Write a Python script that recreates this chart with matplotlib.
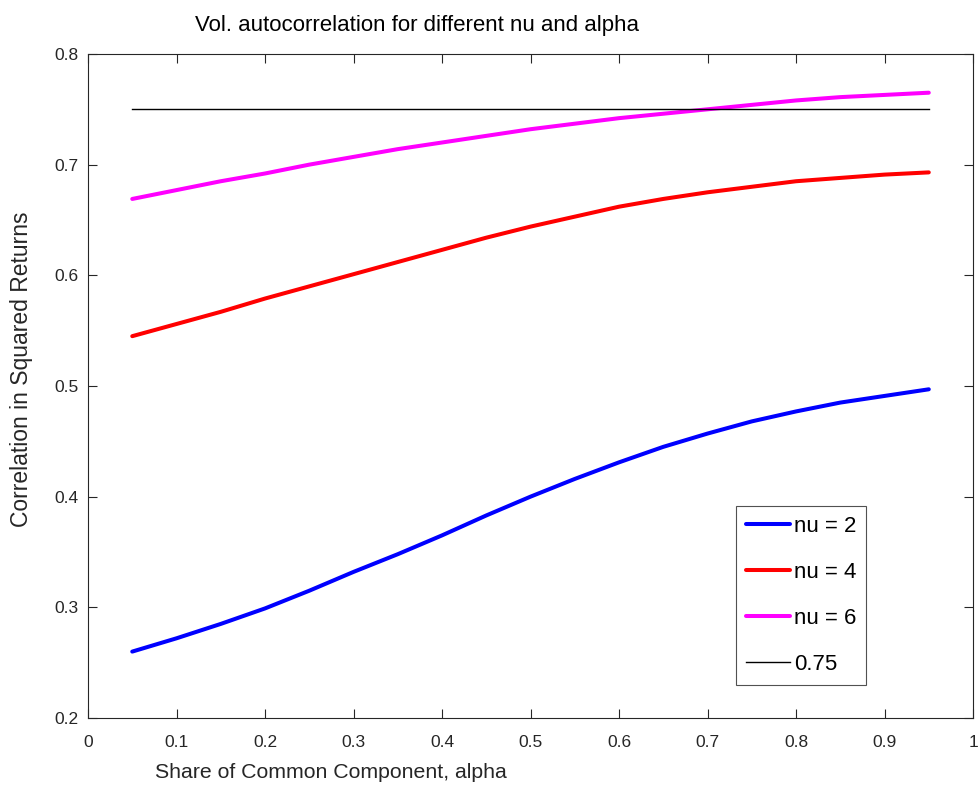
import matplotlib as mpl
import matplotlib.pyplot as plt

mpl.use('Agg')
plt.rcParams['font.family'] = ['Liberation Sans', 'DejaVu Sans']

alpha = [0.05, 0.10, 0.15, 0.20, 0.25, 0.30, 0.35, 0.40, 0.45, 0.50,
         0.55, 0.60, 0.65, 0.70, 0.75, 0.80, 0.85, 0.90, 0.95]
corr_nu2 = [0.260, 0.272, 0.285, 0.299, 0.315, 0.332, 0.348, 0.365, 0.383, 0.400,
            0.416, 0.431, 0.445, 0.457, 0.468, 0.477, 0.485, 0.491, 0.497]
corr_nu4 = [0.545, 0.556, 0.567, 0.579, 0.590, 0.601, 0.612, 0.623, 0.634, 0.644,
            0.653, 0.662, 0.669, 0.675, 0.680, 0.685, 0.688, 0.691, 0.693]
corr_nu6 = [0.669, 0.677, 0.685, 0.692, 0.700, 0.707, 0.714, 0.720, 0.726, 0.732,
            0.737, 0.742, 0.746, 0.750, 0.754, 0.758, 0.761, 0.763, 0.765]
ref_level = 0.75

fig = plt.figure(figsize=(9.8, 7.89), dpi=100)
ax = fig.add_axes([0.0898, 0.09, 0.9031, 0.8416])

ax.plot(alpha, corr_nu2, color='#0000ff', lw=2.9, label='nu = 2', solid_capstyle='round')
ax.plot(alpha, corr_nu4, color='#ff0000', lw=2.9, label='nu = 4', solid_capstyle='round')
ax.plot(alpha, corr_nu6, color='#ff00ff', lw=2.9, label='nu = 6', solid_capstyle='round')
ax.plot([alpha[0], alpha[-1]], [ref_level, ref_level], color='black', lw=1.0, label='0.75')

ax.set_xlim(0, 1)
ax.set_ylim(0.2, 0.8)
ax.set_xticks([i / 10 for i in range(11)])
ax.set_xticklabels(['0', '0.1', '0.2', '0.3', '0.4', '0.5', '0.6', '0.7', '0.8', '0.9', '1'])
ax.set_yticks([0.2, 0.3, 0.4, 0.5, 0.6, 0.7, 0.8])
ax.set_yticklabels(['0.2', '0.3', '0.4', '0.5', '0.6', '0.7', '0.8'])
ax.tick_params(direction='in', length=6.5, width=0.8, top=True, right=True,
               labelsize=12.5, colors='#262626')
ax.tick_params(axis='x', pad=12)
ax.tick_params(axis='y', pad=7)
for s in ax.spines.values():
    s.set_color('#262626')
    s.set_linewidth(0.8)

fig.text(195 / 980, 1 - 31 / 789, 'Vol. autocorrelation for different nu and alpha',
         fontsize=16, va='baseline', ha='left')
fig.text(155 / 980, 1 - 778 / 789, 'Share of Common Component, alpha',
         fontsize=15.3, va='baseline', ha='left', color='#262626')
fig.text(22 / 980, 1 - 369 / 789, 'Correlation in Squared Returns',
         fontsize=16.5, va='center', ha='center', rotation=90, color='#262626')

leg = ax.legend(loc='lower left', bbox_to_anchor=(736 / 980, 104 / 789),
                bbox_transform=fig.transFigure, fontsize=16, frameon=True,
                fancybox=False, edgecolor='#262626', handlelength=2.0,
                handletextpad=0.15, labelspacing=1.13, borderpad=0.45,
                borderaxespad=0)
leg.get_frame().set_linewidth(0.8)

fig.savefig('out.png', dpi=100)
